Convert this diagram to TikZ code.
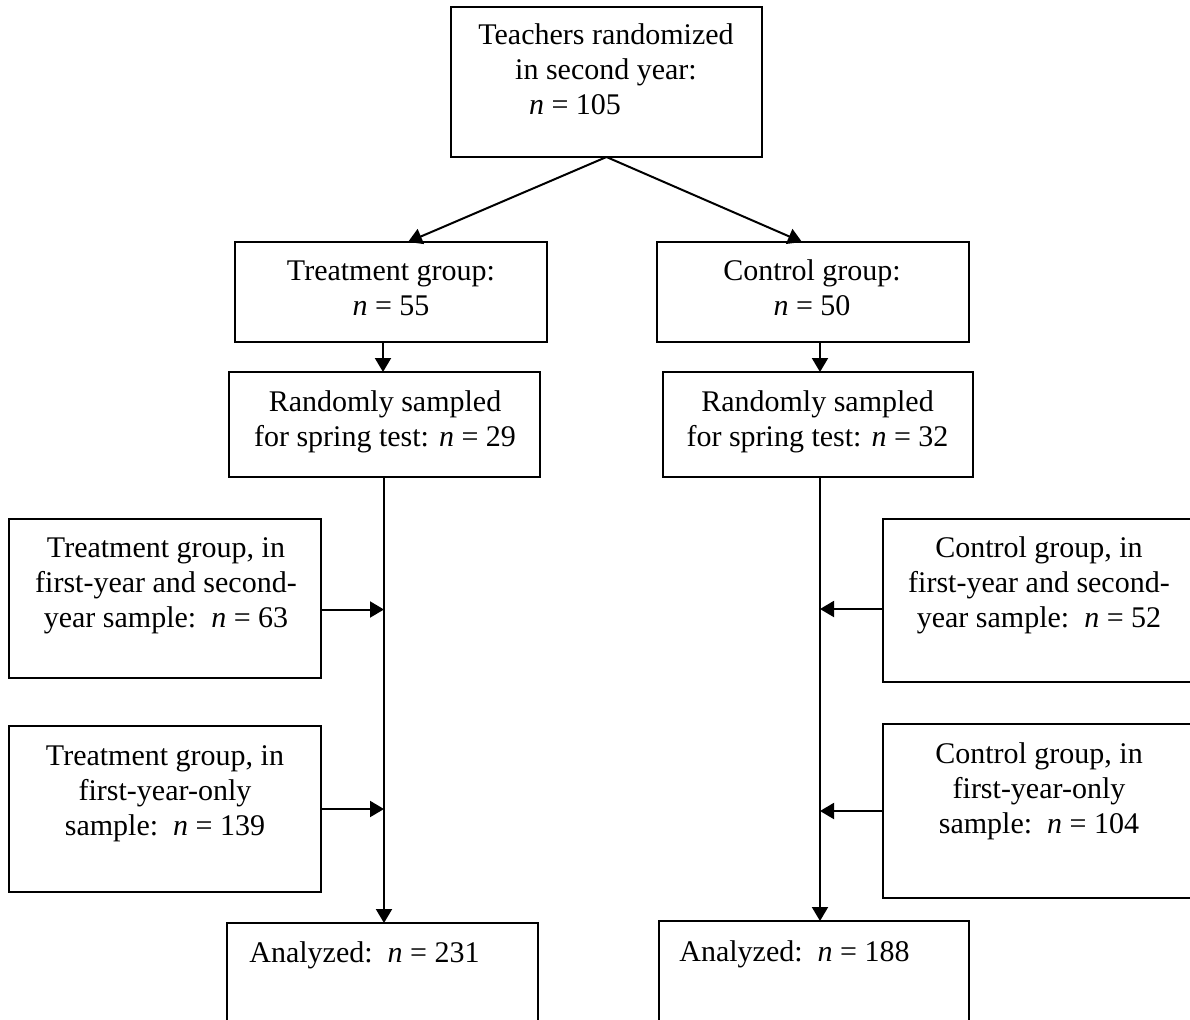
\documentclass[tikz,border=0pt]{standalone}
\usepackage{fontspec}
\setmainfont{Liberation Serif}
\usetikzlibrary{arrows.meta}
\newcommand\fsz{\fontsize{15}{17.5}\selectfont}
\begin{document}
\begin{tikzpicture}[x=0.5pt,y=-0.5pt,
  bx/.style 2 args={draw, line width=1pt, minimum width=#1*0.5pt, minimum height=#2*0.5pt, inner sep=0pt, outer sep=0pt},
  txt/.style={align=center, inner sep=0pt, font=\fsz},
  arr/.style={line width=1pt, -{Triangle[length=7pt,width=8pt]}}]
\useasboundingbox (0,0) rectangle (1190,1019);
\clip (0,0) rectangle (1190,1019);
\fill[white] (0,0) rectangle (1190,1019);

% boxes
\node[bx={311}{150}] (top) at (606.5,82) {};
\node[txt] (ttop) at (606,72) {\strut Teachers randomized\\\strut in second year:\\\strut\hspace*{-31pt}\textit{n} = 105};

\node[bx={312}{100}] (treat) at (391,292) {};
\node[txt] (ttreat) at (391,290.5) {\strut Treatment group:\\\strut\textit{n} = 55};

\node[bx={312}{100}] (ctrl) at (813,292) {};
\node[txt] (tctrl) at (812,290.5) {\strut Control group:\\\strut\textit{n} = 50};

\node[bx={311}{105}] (randT) at (384,424.5) {};
\node[txt] (trandT) at (385,421.5) {\strut Randomly sampled\\\strut for spring test: \textit{n} = 29};

\node[bx={310}{105}] (randC) at (818,424.5) {};
\node[txt] (trandC) at (817.5,421.5) {\strut Randomly sampled\\\strut for spring test: \textit{n} = 32};

\node[bx={312}{159}] (L1) at (165,598.5) {};
\node[txt] (tL1) at (166,585.5) {\strut Treatment group, in\\\strut first-year and second-\\\strut year sample:\enspace\textit{n} = 63};

\node[bx={312}{166}] (L2) at (165,809) {};
\node[txt] (tL2) at (165,793) {\strut Treatment group, in\\\strut first-year-only\\\strut sample:\enspace\textit{n} = 139};

\node[bx={312}{163}] (R1) at (1039,600.5) {};
\node[txt] (tR1) at (1039,585.5) {\strut Control group, in\\\strut first-year and second-\\\strut year sample:\enspace\textit{n} = 52};

\node[bx={312}{174}] (R2) at (1039,811) {};
\node[txt] (tR2) at (1039,791) {\strut Control group, in\\\strut first-year-only\\\strut sample:\enspace\textit{n} = 104};

\node[bx={311}{150}] (AnT) at (382.5,998) {};
\node[txt, anchor=base west] (tAnT) at (249,962) {Analyzed:\enspace\textit{n} = 231};

\node[bx={310}{150}] (AnC) at (814,996) {};
\node[txt, anchor=base west] (tAnC) at (679,961) {Analyzed:\enspace\textit{n} = 188};

% connectors
\draw[arr] (top.south) -- ([xshift=8.5pt]treat.north);
\draw[arr] (top.south) -- ([xshift=-5.5pt]ctrl.north);

\coordinate (a1) at ([xshift=-4pt]treat.south);
\draw[arr] (a1) -- (a1 |- randT.north);
\coordinate (a2) at ([xshift=3.5pt]ctrl.south);
\draw[arr] (a2) -- (a2 |- randC.north);

\draw[arr] (randT.south) -- (randT.south |- AnT.north);
\coordinate (vc) at ([xshift=1pt]randC.south);
\draw[arr] (vc) -- (vc |- AnC.north);

\coordinate (l1) at ([yshift=-5.5pt]L1.east);
\draw[arr] (l1) -- (l1 -| randT.south);
\draw[arr] (L2.east) -- (L2.east -| randT.south);

\coordinate (r1) at ([yshift=-4.25pt]R1.west);
\draw[arr] (r1) -- (r1 -| vc);
\draw[arr] (R2.west) -- (R2.west -| vc);
\end{tikzpicture}
\end{document}
